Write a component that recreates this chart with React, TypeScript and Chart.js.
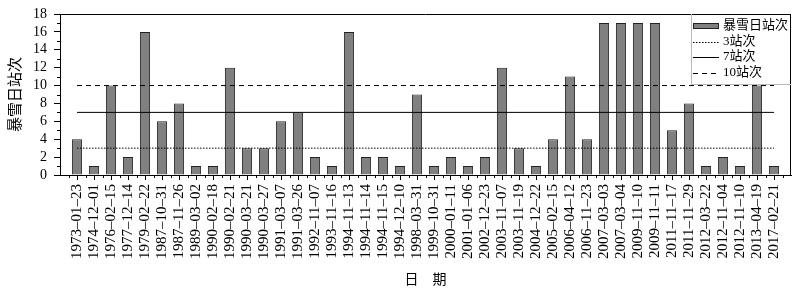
import React, { useEffect, useRef } from 'react';
import { Chart, registerables } from 'chart.js';

Chart.register(...registerables);

const dates = [
  '1973–01–23', '1974–12–01', '1976–02–15', '1977–12–14', '1979–02–22', '1987–10–31',
  '1987–11–26', '1989–03–02', '1990–02–18', '1990–02–21', '1990–03–21', '1990–03–27',
  '1991–03–07', '1991–03–26', '1992–11–07', '1993–11–16', '1994–11–13', '1994–11–14',
  '1994–11–15', '1994–12–10', '1998–03–31', '1999–10–31', '2000–01–11', '2001–01–06',
  '2002–12–23', '2003–11–07', '2003–11–19', '2004–12–22', '2005–02–15', '2006–04–12',
  '2006–11–23', '2007–03–03', '2007–03–04', '2009–11–10', '2009–11–11', '2011–11–17',
  '2011–11–29', '2012–03–22', '2012–11–04', '2012–11–10', '2013–04–19', '2017–02–21',
];

const counts = [
  4, 1, 10, 2, 16, 6,
  8, 1, 1, 12, 3, 3,
  6, 7, 2, 1, 16, 2,
  2, 1, 9, 1, 2, 1,
  2, 12, 3, 1, 4, 11,
  4, 17, 17, 17, 17, 5,
  8, 1, 2, 1, 10, 1,
];

const barLabel = '暴雪日站次';
const thresholdValues = [3, 7, 10];
const thresholdLabels = ['3站次', '7站次', '10站次'];
const yTickStep = 2;
const yMax = 18;
const xTitle = '日　期';

const SERIF = "'Liberation Serif', 'Times New Roman', 'Noto Sans CJK SC', serif";
const CJK = "'Noto Sans CJK SC', 'Liberation Serif', serif";
const dashes = [[1.5, 1.5], [], [5, 4]];

const extrasPlugin = {
  id: 'extras',
  afterDraw(chart: any) {
    const ctx = chart.ctx as CanvasRenderingContext2D;
    const ca = chart.chartArea;
    const xs = chart.scales.x;
    const ys = chart.scales.y;
    ctx.save();
    ctx.strokeStyle = '#000';
    ctx.lineWidth = 1;
    ctx.setLineDash([]);
    // top & right border
    ctx.beginPath();
    ctx.moveTo(ca.left, Math.round(ca.top) + 0.5);
    ctx.lineTo(ca.right, Math.round(ca.top) + 0.5);
    ctx.moveTo(Math.round(ca.right) - 0.5, ca.top);
    ctx.lineTo(Math.round(ca.right) - 0.5, ca.bottom);
    ctx.stroke();
    // y minor ticks
    ctx.beginPath();
    for (let v = 1; v < yMax; v += yTickStep) {
      const y = Math.round(ys.getPixelForValue(v)) + 0.5;
      ctx.moveTo(ca.left - 3, y);
      ctx.lineTo(ca.left, y);
    }
    // x minor ticks
    const n = chart.data.labels.length;
    for (let i = 0; i < n - 1; i++) {
      const x = Math.round((xs.getPixelForValue(i) + xs.getPixelForValue(i + 1)) / 2) + 0.5;
      ctx.moveTo(x, ca.bottom);
      ctx.lineTo(x, ca.bottom + 3);
    }
    ctx.stroke();

    // legend
    const boxL = ca.right - 100;
    const boxB = ca.top + 70;
    ctx.strokeStyle = '#bbbbbb';
    ctx.beginPath();
    ctx.moveTo(Math.round(boxL) + 0.5, ca.top);
    ctx.lineTo(Math.round(boxL) + 0.5, boxB + 0.5);
    ctx.lineTo(ca.right, boxB + 0.5);
    ctx.stroke();

    const ds = chart.data.datasets;
    const sx0 = boxL + 2;
    const sx1 = boxL + 28;
    const tx = boxL + 32;
    ctx.font = `13px ${SERIF}`;
    ctx.textBaseline = 'middle';
    ctx.textAlign = 'left';
    ds.forEach((d: any, i: number) => {
      const y = ca.top + 12 + 15.5 * i;
      if (d.type === 'bar') {
        ctx.fillStyle = d.backgroundColor;
        ctx.fillRect(sx0, y - 3, sx1 - sx0, 6);
        ctx.strokeStyle = d.borderColor;
        ctx.setLineDash([]);
        ctx.strokeRect(sx0 + 0.5, y - 2.5, sx1 - sx0 - 1, 5);
      } else {
        ctx.strokeStyle = d.borderColor;
        ctx.setLineDash(d.borderDash || []);
        ctx.beginPath();
        ctx.moveTo(sx0, Math.round(y) + 0.5);
        ctx.lineTo(sx1, Math.round(y) + 0.5);
        ctx.stroke();
      }
      ctx.setLineDash([]);
      ctx.fillStyle = '#000';
      ctx.fillText(d.label, tx, y);
    });
    ctx.restore();
  },
};

export default function App() {
  const ref = useRef<HTMLCanvasElement>(null);
  useEffect(() => {
    if (!ref.current) return;
    const labels = ['', ...dates, ''];
    const pad = (arr: number[]) => [null, ...arr, null];
    const last = labels.length - 1;
    const chart = new Chart(ref.current, {
      type: 'bar',
      data: {
        labels,
        datasets: [
          {
            type: 'bar',
            label: barLabel,
            data: pad(counts),
            backgroundColor: '#808080',
            borderColor: '#222222',
            borderWidth: 1,
            categoryPercentage: 1,
            barPercentage: 0.6,
            order: 2,
          } as any,
          ...thresholdValues.map((v, i) => ({
            type: 'line',
            label: thresholdLabels[i],
            data: pad(dates.map(() => v)),
            borderColor: '#000000',
            borderWidth: 1,
            borderDash: dashes[i],
            pointRadius: 0,
            fill: false,
            order: 1,
          } as any)),
        ],
      },
      options: {
        responsive: false,
        animation: false,
        layout: { padding: { top: 14, right: 9, left: 0, bottom: 0 } },
        plugins: { legend: { display: false }, tooltip: { enabled: false } },
        scales: {
          x: {
            type: 'category',
            offset: false,
            grid: {
              offset: false,
              drawOnChartArea: false,
              drawTicks: true,
              tickLength: 5,
              color: (c: any) => (c.index === 0 || c.index === last ? 'rgba(0,0,0,0)' : '#000'),
            },
            border: { display: true, color: '#000', width: 1 },
            ticks: {
              autoSkip: false,
              minRotation: 90,
              maxRotation: 90,
              padding: 4,
              color: '#000',
              font: { family: SERIF, size: 15 },
            },
            title: {
              display: true,
              text: xTitle,
              color: '#000',
              font: { family: SERIF, size: 14 },
              padding: { top: 0, bottom: 3 },
            },
            afterFit: (s: any) => {
              s.height = 117;
              s.paddingLeft = 0;
              s.paddingRight = 0;
            },
          },
          y: {
            min: 0,
            max: yMax,
            ticks: {
              stepSize: yTickStep,
              autoSkip: false,
              padding: 7,
              color: '#000',
              font: { family: SERIF, size: 14 },
            },
            grid: { drawOnChartArea: false, drawTicks: true, tickLength: 6, color: '#000' },
            border: { display: true, color: '#000', width: 1 },
            title: {
              display: true,
              text: barLabel,
              color: '#000',
              font: { family: CJK, size: 15 },
              padding: { top: 5, bottom: 0 },
            },
            afterFit: (s: any) => {
              s.width = 60;
              s.paddingTop = 0;
              s.paddingBottom = 0;
            },
          },
        },
      } as any,
      plugins: [extrasPlugin],
    });
    return () => chart.destroy();
  }, []);
  return (
    <div style={{ position: 'absolute', left: 0, top: 0, width: 800, height: 292, background: '#fff' }}>
      <canvas ref={ref} width={800} height={292} />
    </div>
  );
}
